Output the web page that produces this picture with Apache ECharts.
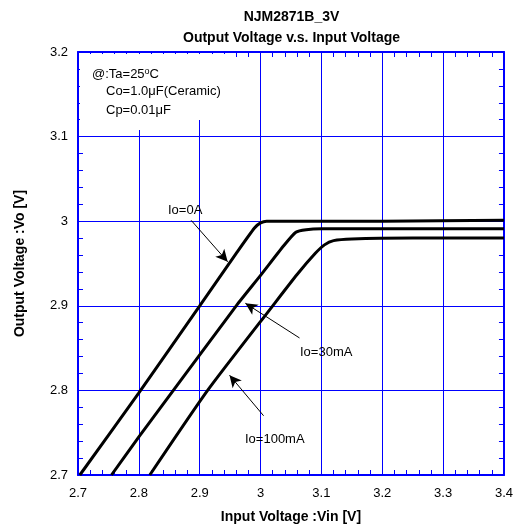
<!DOCTYPE html>
<html>
<head>
<meta charset="utf-8">
<script src="https://cdn.jsdelivr.net/npm/echarts@6/dist/echarts.min.js"></script>
<style>
html,body{margin:0;padding:0;background:#fff;}
#c{width:516px;height:529px;}
</style>
</head>
<body>
<div id="c"></div>
<script>
// ---- data (Vin [V], Vo [V]) ----
const vin0   = [2.703, 2.80, 2.90, 2.96, 2.99, 3.00, 3.01, 3.02, 3.20, 3.40];
const vo0    = [2.700, 2.797, 2.900, 2.962, 2.992, 2.998, 3.000, 3.000, 3.000, 3.001];
const vin30  = [2.755, 2.80, 2.96, 3.00, 3.038, 3.058, 3.075, 3.10, 3.20, 3.40];
const vo30   = [2.700, 2.745, 2.900, 2.936, 2.971, 2.987, 2.990, 2.991, 2.991, 2.991];
const vin100 = [2.818, 2.913, 3.020, 3.06, 3.09, 3.105, 3.12, 3.15, 3.25, 3.40];
const vo100  = [2.700, 2.800, 2.900, 2.937, 2.962, 2.972, 2.977, 2.979, 2.980, 2.980];
const seriesNames = ['Io=0A', 'Io=30mA', 'Io=100mA'];
const xTicks = ['2.7','2.8','2.9','3','3.1','3.2','3.3','3.4'];
const yTicks = ['2.7','2.8','2.9','3','3.1','3.2'];
// arrow annotations [fromVin, fromVo, toVin, toVo]
const arrows = [
  [2.886, 3.001, 2.946, 2.952],
  [3.064, 2.862, 2.975, 2.903],
  [3.005, 2.770, 2.949, 2.818]
];

const zip = (a, b) => a.map((v, i) => [v, b[i]]);
const FONT = '"Liberation Sans", Arial, sans-serif';
const BLUE = '#0000ff';

const chart = echarts.init(document.getElementById('c'), null, {renderer: 'canvas'});

const fmtX = v => { const s = (Math.round(v * 10) / 10).toString(); return xTicks.includes(s) ? s : ''; };
const fmtY = v => { const s = (Math.round(v * 10) / 10).toString(); return yTicks.includes(s) ? s : ''; };

const baseAxis = {
  type: 'value',
  interval: 0.1,
  splitNumber: 5,
  axisLine: {show: true, onZero: false, lineStyle: {color: BLUE, width: 2}},
  axisTick: {show: true, inside: true, length: 5, lineStyle: {color: BLUE, width: 1}},
  minorTick: {show: true, splitNumber: 5, length: 5, lineStyle: {color: BLUE, width: 1}},
};

const option = {
  animation: false,
  backgroundColor: '#ffffff',
  grid: {left: 78, right: 11, top: 52, bottom: 49, containLabel: false},
  xAxis: [
    Object.assign({}, baseAxis, {
      min: 2.7, max: 3.4, position: 'bottom',
      name: 'Input Voltage :Vin [V]', nameLocation: 'middle', nameGap: 35,
      nameTextStyle: {fontFamily: FONT, fontSize: 14, fontWeight: 'bold', color: '#000'},
      axisLabel: {show: true, formatter: fmtX, margin: 12, fontFamily: FONT, fontSize: 13, color: '#000'},
      splitLine: {show: true, lineStyle: {color: BLUE, width: 1}},
    }),
    Object.assign({}, baseAxis, {
      min: 2.7, max: 3.4, position: 'top',
      axisLabel: {show: false}, splitLine: {show: false},
    })
  ],
  yAxis: [
    Object.assign({}, baseAxis, {
      min: 2.7, max: 3.2, position: 'left',
      name: 'Output Voltage :Vo [V]', nameLocation: 'middle', nameGap: 51,
      nameTextStyle: {fontFamily: FONT, fontSize: 14, fontWeight: 'bold', color: '#000'},
      axisLabel: {show: true, formatter: fmtY, margin: 10, fontFamily: FONT, fontSize: 13, color: '#000'},
      splitLine: {show: true, lineStyle: {color: BLUE, width: 1}},
    }),
    Object.assign({}, baseAxis, {
      min: 2.7, max: 3.2, position: 'right',
      axisLabel: {show: false}, splitLine: {show: false},
    })
  ],
  series: [
    {name: seriesNames[0], data: zip(vin0, vo0)},
    {name: seriesNames[1], data: zip(vin30, vo30)},
    {name: seriesNames[2], data: zip(vin100, vo100)}
  ].map((s, i) => Object.assign({
    type: 'line', xAxisIndex: 0, yAxisIndex: 0,
    showSymbol: false, symbol: 'none', smooth: 0.2,
    lineStyle: {color: '#000', width: 3}, z: 5,
  }, s, i === 0 ? {
    markLine: {
      silent: true, symbol: ['none', 'arrow'], symbolSize: [9, 12],
      lineStyle: {color: '#000', width: 1, type: 'solid'},
      label: {show: false},
      data: arrows.map(a => [{coord: [a[0], a[1]]}, {coord: [a[2], a[3]]}])
    }
  } : {})),
  graphic: [
    {type: 'rect', shape: {x: 80, y: 54, width: 152, height: 66}, style: {fill: '#fff'}, z: 1, silent: true},
    {type: 'rect', shape: {x: 80, y: 118, width: 90, height: 12}, style: {fill: '#fff'}, z: 1, silent: true},
    {type: 'text', x: 291.5, y: 10, z: 10, style: {text: 'NJM2871B_3V', font: 'bold 14px ' + FONT, fill: '#000', textAlign: 'center'}},
    {type: 'text', x: 291.5, y: 31, z: 10, style: {text: 'Output Voltage v.s. Input Voltage', font: 'bold 14px ' + FONT, fill: '#000', textAlign: 'center'}},
    {type: 'text', x: 92, y: 67, z: 10, style: {
      text: '@:Ta=25{s|o}C', font: '13px ' + FONT, fill: '#000',
      rich: {s: {fontSize: 9, fontFamily: FONT, verticalAlign: 'top', padding: [0, 0, 6, 0]}}
    }},
    {type: 'text', x: 106, y: 85, z: 10, style: {text: 'Co=1.0\u03bcF(Ceramic)', font: '13px ' + FONT, fill: '#000'}},
    {type: 'text', x: 106, y: 104, z: 10, style: {text: 'Cp=0.01\u03bcF', font: '13px ' + FONT, fill: '#000'}},
    {type: 'text', x: 168, y: 204, z: 10, style: {text: seriesNames[0], font: '13px ' + FONT, fill: '#000'}},
    {type: 'text', x: 300, y: 346, z: 10, style: {text: seriesNames[1], font: '13px ' + FONT, fill: '#000'}},
    {type: 'text', x: 245, y: 433, z: 10, style: {text: seriesNames[2], font: '13px ' + FONT, fill: '#000'}}
  ]
};
chart.setOption(option);
</script>
</body>
</html>
